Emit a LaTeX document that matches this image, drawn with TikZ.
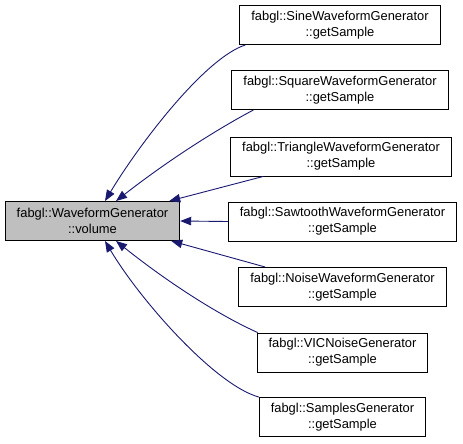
\documentclass[tikz,border=0pt]{standalone}
\usepackage{fontspec}
\setmainfont{Liberation Sans}
\usetikzlibrary{arrows.meta}
\definecolor{edgeblue}{HTML}{191970}
\definecolor{grey75}{HTML}{BFBFBF}
\tikzset{
  fn/.style={draw=black, line width=0.9pt, fill=white, rectangle, align=center,
    minimum height=39pt, inner xsep=11.5pt, inner ysep=2pt,
    font=\fontsize{12.9pt}{16pt}\selectfont},
  cur/.style={fn, fill=grey75},
  edge/.style={draw=edgeblue, line width=0.9pt,
    -{Triangle[length=11pt,width=8.5pt]}}
}
\begin{document}
\begin{tikzpicture}[x=1pt,y=-1pt]
\useasboundingbox (0,0) rectangle (463,444);
\node[cur] (vol) at (92.5,221) {fabgl::WaveformGenerator\\::volume};
\node[fn] (sine) at (340,25) {fabgl::SineWaveformGenerator\\::getSample};
\node[fn] (sq) at (340,90) {fabgl::SquareWaveformGenerator\\::getSample};
\node[fn] (tri) at (341,156.5) {fabgl::TriangleWaveformGenerator\\::getSample};
\node[fn] (saw) at (342.5,221.5) {fabgl::SawtoothWaveformGenerator\\::getSample};
\node[fn] (noise) at (342.5,287) {fabgl::NoiseWaveformGenerator\\::getSample};
\node[fn] (vic) at (342.5,352.5) {fabgl::VICNoiseGenerator\\::getSample};
\node[fn] (samp) at (342.5,417) {fabgl::SamplesGenerator\\::getSample};

\draw[edge] ([xshift=6]sine.south west) .. controls (205,58) and (140,143) .. ([xshift=12.5]vol.north);
\draw[edge] ([xshift=22]sq.south west) .. controls (225,125) and (175,155) .. ([xshift=23.5]vol.north);
\draw[edge] ([xshift=33]tri.south west) -- ([xshift=-11]vol.north east);
\draw[edge] (saw.west) -- (vol.east);
\draw[edge] ([xshift=27]noise.north west) -- ([xshift=-9]vol.south east);
\draw[edge] ([xshift=1]vic.north west) .. controls (225,318) and (175,288) .. ([xshift=23.5]vol.south);
\draw[edge] (samp.north west) .. controls (215,385) and (140,300) .. ([xshift=12.5]vol.south);
\end{tikzpicture}
\end{document}
